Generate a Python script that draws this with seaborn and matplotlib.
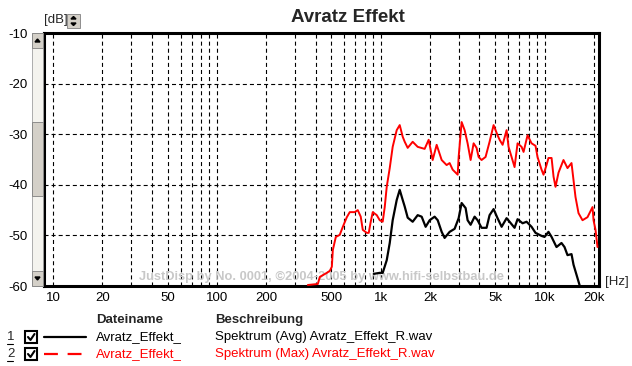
import numpy as np
import pandas as pd
import seaborn as sns
import matplotlib.pyplot as plt
from matplotlib.patches import Rectangle, Polygon
from matplotlib.lines import Line2D

# spectrum (max) - red
freq_max = [359, 413, 425, 469, 489, 503, 510, 532, 562, 587, 621, 647, 694, 724, 755, 777,
            822, 845, 869, 894, 946, 986, 1028, 1058, 1088, 1135, 1183, 1252, 1306, 1362,
            1401, 1461, 1567, 1681, 1854, 1962, 2075, 2195, 2355, 2525, 2634, 2748, 2949,
            2990, 3118, 3252, 3391, 3538, 3690, 3848, 3958, 4127, 4365, 4618, 4886, 5166,
            5317, 5547, 5865, 6030, 6291, 6562, 6844, 7241, 7447, 7876, 8331, 8810, 9060,
            9586, 9856, 10280, 10570, 11040, 11350, 11670, 12170, 13050, 13810, 14610,
            15030, 15450, 16120, 17050, 18290, 19630, 19910, 20470, 21050]
db_max = [-59.8, -59.6, -58.2, -57.4, -57.0, -56.2, -52.9, -50.3, -49.9, -48.3, -46.4, -45.4,
          -45.4, -45.0, -46.3, -48.9, -49.5, -49.5, -47.3, -45.4, -46.0, -47.0, -47.3, -44.4,
          -40.4, -36.7, -32.5, -29.2, -28.2, -30.5, -31.5, -32.7, -31.5, -32.5, -32.9, -31.1,
          -35.1, -32.1, -35.1, -36.1, -35.7, -37.0, -38.0, -34.5, -27.6, -29.2, -31.8, -35.1,
          -31.8, -32.7, -34.5, -35.1, -34.5, -31.5, -28.2, -30.2, -31.1, -32.1, -29.2, -32.5,
          -34.5, -36.5, -31.8, -32.5, -33.5, -30.2, -31.8, -32.3, -34.5, -37.0, -38.0, -36.1,
          -34.7, -34.7, -38.4, -40.4, -37.6, -35.1, -36.7, -35.7, -39.1, -42.4, -45.6, -47.0,
          -46.4, -44.4, -47.0, -48.9, -52.3]

# spectrum (avg) - black
freq_avg = [907, 986, 1028, 1088, 1135, 1183, 1252, 1306, 1362, 1401, 1461, 1567, 1681, 1778,
            1880, 1990, 2133, 2228, 2355, 2455, 2634, 2825, 2990, 3118, 3298, 3391, 3538,
            3742, 3902, 4127, 4426, 4618, 4886, 5166, 5470, 5865, 6117, 6562, 6844, 7345,
            7767, 8331, 8810, 9586, 10000, 10570, 11040, 11830, 12690, 13240, 13810, 14610,
            15030, 15680, 16350, 16800]
db_avg = [-57.6, -57.4, -57.4, -54.9, -51.5, -47.0, -43.0, -41.0, -43.0, -44.3, -46.5, -47.3,
          -46.0, -46.3, -48.3, -47.0, -46.3, -47.0, -49.3, -50.5, -49.3, -48.7, -46.6, -43.6,
          -44.6, -47.0, -47.9, -46.3, -47.0, -48.5, -48.5, -46.0, -44.8, -46.6, -48.3, -46.6,
          -47.3, -48.5, -46.8, -47.6, -47.3, -48.3, -49.5, -50.1, -50.3, -49.3, -50.3, -52.3,
          -51.5, -52.3, -53.9, -53.7, -55.8, -57.8, -59.8, -61.0]

y_ticks = [-10, -20, -30, -40, -50, -60]
x_labels = {10: '10', 20: '20', 50: '50', 100: '100', 200: '200', 500: '500',
            1000: '1k', 2000: '2k', 5000: '5k', 10000: '10k', 20000: '20k'}

sns.set_style("white")
plt.rcParams['font.family'] = ['Liberation Sans', 'DejaVu Sans']
plt.rcParams['lines.scale_dashes'] = False

W, H = 632, 366
fig = plt.figure(figsize=(W / 100, H / 100), dpi=100)


def px(x, y):
    return x / W, 1 - y / H


L, R, T, B = 44, 599, 33, 286
ax = fig.add_axes([L / W, 1 - B / H, (R - L) / W, (B - T) / H])

df_avg = pd.DataFrame({'f': freq_avg, 'db': db_avg})
df_max = pd.DataFrame({'f': freq_max, 'db': db_max})
sns.lineplot(data=df_avg, x='f', y='db', color='black', lw=1.6, ax=ax,
             estimator=None, sort=False, zorder=4)
sns.lineplot(data=df_max, x='f', y='db', color='#ff0000', lw=1.4, ax=ax,
             estimator=None, sort=False, zorder=5)

ax.set_xscale('log')
ax.set_xlim(8.8, 21500)
ax.set_ylim(-60, -10)

grid_f = [m * d for d in (10, 100, 1000, 10000) for m in range(1, 10) if m * d <= 20000]
ax.set_xticks(grid_f)
ax.set_xticklabels([x_labels.get(f, '') for f in grid_f])
ax.minorticks_off()
ax.set_yticks(y_ticks)
ax.set_yticklabels([str(v) for v in y_ticks])
ax.tick_params(length=0, labelsize=9.5, colors='black')
ax.tick_params(axis='y', pad=12)
ax.tick_params(axis='x', pad=4)
ax.grid(True, color='black', linestyle=(0, (2.9, 2.2)), linewidth=0.8)
ax.set_xlabel('')
ax.set_ylabel('')
for s in ax.spines.values():
    s.set_color('black')
    s.set_linewidth(2.2)

# watermark
ax.text(0.5, 0.035, 'JustDisp by No. 0001, \u00a92004-2005 by www.hifi-selbstbau.de',
        transform=ax.transAxes, ha='center', va='center', fontsize=9.3,
        fontweight='bold', color='#c8c8c8', zorder=3)

# title and units
fig.text(*px(348, 17), 'Avratz Effekt', ha='center', va='center', fontsize=13.5,
         fontweight='bold')
fig.text(*px(44, 20), '[dB]', ha='left', va='center', fontsize=9.5)
fig.text(*px(605, 282), '[Hz]', ha='left', va='center', fontsize=9.5)

# small spinner next to [dB]
fig.patches.append(Rectangle(px(67, 28), 13 / W, 14 / H, transform=fig.transFigure,
                             facecolor='#d4d0c8', edgecolor='#808080', lw=0.6))
fig.patches.append(Polygon([px(71, 19), px(76, 19), px(73.5, 16.5)], closed=True,
                           transform=fig.transFigure, color='black'))
fig.patches.append(Polygon([px(71, 23), px(76, 23), px(73.5, 25.5)], closed=True,
                           transform=fig.transFigure, color='black'))

# scrollbar on the left
fig.patches.append(Rectangle(px(32, 286), 11 / W, 253 / H, transform=fig.transFigure,
                             facecolor='#f4f3ee', edgecolor='#a0a0a0', lw=0.6))
fig.patches.append(Rectangle(px(32, 196), 11 / W, 74 / H, transform=fig.transFigure,
                             facecolor='#d4d0c8', edgecolor='#808080', lw=0.6))
for y0 in (33, 271):
    fig.patches.append(Rectangle(px(32, y0 + 15), 11 / W, 15 / H, transform=fig.transFigure,
                                 facecolor='#d4d0c8', edgecolor='#808080', lw=0.6))
fig.patches.append(Polygon([px(35, 42), px(40, 42), px(37.5, 39)], closed=True,
                           transform=fig.transFigure, color='black'))
fig.patches.append(Polygon([px(35, 277), px(40, 277), px(37.5, 280)], closed=True,
                           transform=fig.transFigure, color='black'))

# legend table
fig.text(*px(96, 320), 'Dateiname', ha='left', va='center', fontsize=9.5, fontweight='bold')
fig.text(*px(215, 320), 'Beschreibung', ha='left', va='center', fontsize=9.5,
         fontweight='bold')
rows = [('1', 'black', '-', 'Avratz_Effekt_', 'Spektrum (Avg) Avratz_Effekt_R.wav', 337),
        ('2', '#ff0000', (0, (10, 7)), 'Avratz_Effekt_', 'Spektrum (Max) Avratz_Effekt_R.wav', 354)]
for num, col, ls, name, desc, y in rows:
    fig.text(*px(7, y), num, ha='left', va='center', fontsize=9.5)
    fig.lines.append(Line2D([7 / W, 13 / W], [1 - (y + 7) / H] * 2, transform=fig.transFigure,
                            color='black', lw=0.8))
    fig.patches.append(Rectangle(px(25, y + 6), 12 / W, 12 / H, transform=fig.transFigure,
                                 facecolor='white', edgecolor='black', lw=1.5))
    fig.lines.append(Line2D([28 / W, 30.5 / W, 34.5 / W],
                            [1 - (y) / H, 1 - (y + 3) / H, 1 - (y - 3) / H],
                            transform=fig.transFigure, color='black', lw=1.5))
    fig.lines.append(Line2D([44 / W, 86 / W], [1 - y / H] * 2, transform=fig.transFigure,
                            color=col, lw=1.6, linestyle=ls))
    fig.text(*px(96, y), name, ha='left', va='center', fontsize=9.5, color=col)
    fig.text(*px(215, y), desc, ha='left', va='center', fontsize=9.5, color=col)

fig.savefig('out.png', dpi=100)
